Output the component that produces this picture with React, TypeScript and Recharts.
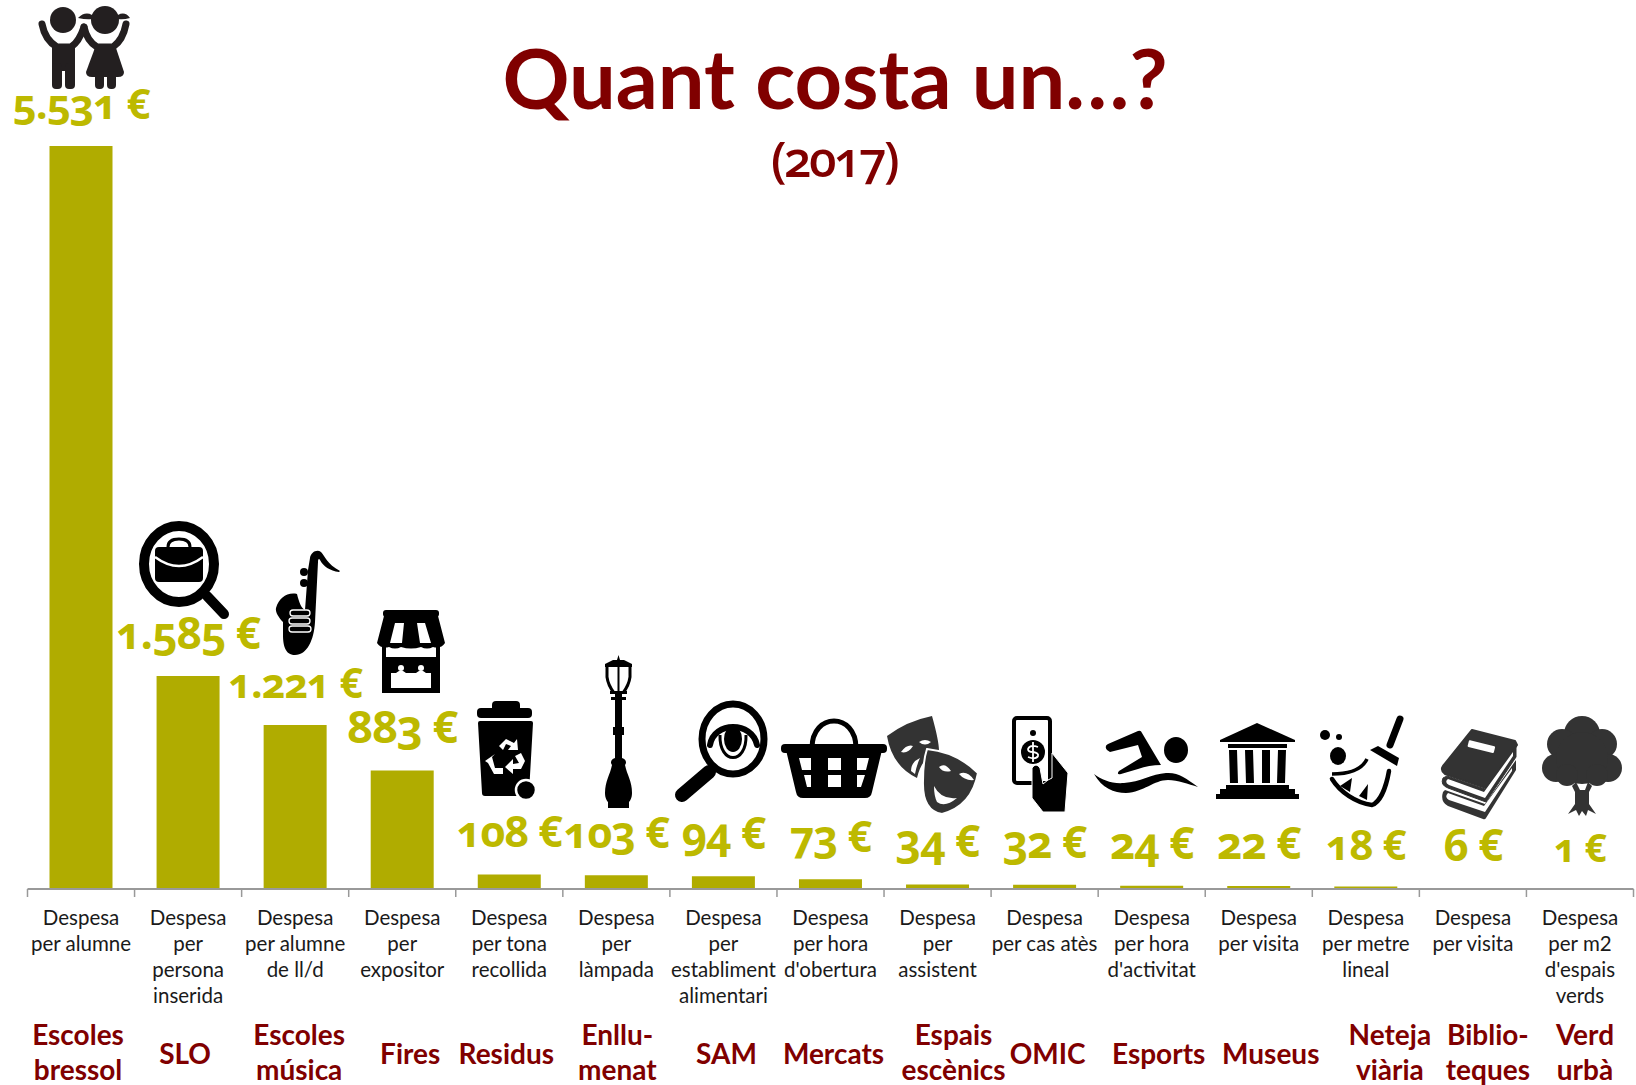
import React from 'react';
import { BarChart, Bar, XAxis, YAxis, LabelList } from 'recharts';

const sections = ['Escoles bressol', 'SLO', 'Escoles música', 'Fires', 'Residus', 'Enllu-menat', 'SAM', 'Mercats', 'Espais escènics', 'OMIC', 'Esports', 'Museus', 'Neteja viària', 'Biblio-teques', 'Verd urbà'];
const values = [5531, 1585, 1221, 883, 108, 103, 94, 73, 34, 32, 24, 22, 18, 6, 1];
const sectionLines = [['Escoles', 'bressol'], ['SLO'], ['Escoles', 'música'], ['Fires'], ['Residus'], ['Enllu-', 'menat'], ['SAM'], ['Mercats'], ['Espais', 'escènics'], ['OMIC'], ['Esports'], ['Museus'], ['Neteja', 'viària'], ['Biblio-', 'teques'], ['Verd', 'urbà']];
const descriptions = [
  ['Despesa', 'per alumne'],
  ['Despesa', 'per', 'persona', 'inserida'],
  ['Despesa', 'per alumne', 'de ll/d'],
  ['Despesa', 'per', 'expositor'],
  ['Despesa', 'per tona', 'recollida'],
  ['Despesa', 'per', 'làmpada'],
  ['Despesa', 'per', 'establiment', 'alimentari'],
  ['Despesa', 'per hora', "d'obertura"],
  ['Despesa', 'per', 'assistent'],
  ['Despesa', 'per cas atès'],
  ['Despesa', 'per hora', "d'activitat"],
  ['Despesa', 'per visita'],
  ['Despesa', 'per metre', 'lineal'],
  ['Despesa', 'per visita'],
  ['Despesa', 'per m2', "d'espais", 'verds'],
];

// the section names are not centred under the bars in the original
const sectionShift = [-3, -3, 4, 8, -3, 1, 3, 3, 16, 3, 7, 12, 24, 15, 5];
const labelSizes = [42, 44, 41, 45, 43, 43, 44, 43, 44, 44, 44, 44, 42, 44, 39];

const data = sections.map((section, i) => ({ section, value: values[i] }));

const RED = '#800000';
const OLIVE = '#b0ac00';
const LABEL = '#bdb900';
const BAND = 107.07;
const FONT = 'Lato, sans-serif';

const formatEuro = (v: number) => `${v >= 1000 ? `${Math.floor(v / 1000)}.${String(v % 1000).padStart(3, '0')}` : v} €`;

function CategoryTick({ x, y, index }: any) {
  const i = index as number;
  const lines = sectionLines[i];
  return (
    <g>
      <line x1={x - BAND / 2} x2={x - BAND / 2} y1={y} y2={y + 8} stroke="#999" strokeWidth={1.5} />
      {i === sections.length - 1 && <line x1={x + BAND / 2} x2={x + BAND / 2} y1={y} y2={y + 8} stroke="#999" strokeWidth={1.5} />}
      {descriptions[i].map((t, k) => (
        <text key={k} x={x} y={y + 35.5 + k * 26} textAnchor="middle" fontFamily={FONT} fontSize={20.5} fill="#1a1a1a">{t}</text>
      ))}
      {lines.map((t, k) => (
        <text key={k} x={x + sectionShift[i]} y={y + (lines.length === 1 ? 175 : 156 + k * 35)} textAnchor="middle" fontFamily={FONT} fontWeight={700} fontSize={28} fill={RED}>{t}</text>
      ))}
    </g>
  );
}

function ValueLabel({ x, y, width, index, value }: any) {
  return (
    <text x={x + width / 2} y={y - 27} textAnchor="middle" fontFamily="'Open Sans', sans-serif" fontWeight={700} fontSize={labelSizes[index]} fill={LABEL} style={{ fontVariantNumeric: 'oldstyle-nums', letterSpacing: -1 }}>
      {formatEuro(value)}
    </text>
  );
}

// icons, drawn in their own pixel boxes
const Box = ({ x, y, w, h, fill = '#000', children }: any) => (
  <svg x={x} y={y} width={w} height={h} viewBox={`0 0 ${w} ${h}`} overflow="visible" fill={fill}>{children}</svg>
);

const Kids = () => (
  <Box x={37} y={7} w={94} h={82} fill="#231f20">
    <circle cx={26} cy={13} r={13} />
    <path d="M5 17Q8 33 20 40L34 40Q42 35 47 20" fill="none" stroke="#231f20" strokeWidth={7} strokeLinecap="round" />
    <rect x={15} y={38} width={23} height={26} />
    <rect x={15} y={56} width={10} height={26} rx={4} />
    <rect x={28} y={56} width={10} height={26} rx={4} />
    <circle cx={68} cy={13} r={14} />
    <path d="M55 8Q48 4 41 11Q50 13 55 12ZM81 8Q88 4 93 11Q86 13 81 12Z" />
    <path d="M47 20Q50 34 60 40L76 40Q86 33 89 17" fill="none" stroke="#231f20" strokeWidth={7} strokeLinecap="round" />
    <path d="M59 38H78L87 65Q87 70 81 70H55Q49 70 49 65Z" />
    <rect x={58} y={64} width={9} height={18} rx={4} />
    <rect x={70} y={64} width={9} height={18} rx={4} />
  </Box>
);

const JobSearch = () => (
  <Box x={139} y={521} w={92} h={100}>
    <ellipse cx={40} cy={43} rx={35} ry={38} fill="none" stroke="#000" strokeWidth={10} />
    <path d="M68 75L85 93" stroke="#000" strokeWidth={10} strokeLinecap="round" />
    <path d="M29 26Q29 18 40 18Q51 18 51 26" fill="none" stroke="#000" strokeWidth={3} />
    <path d="M20 26H60Q64 26 64 30V57Q64 61 60 61H20Q16 61 16 57V30Q16 26 20 26Z" />
    <path d="M16 36Q40 54 64 36" fill="none" stroke="#fff" strokeWidth={2.5} />
  </Box>
);

const Sax = () => (
  <Box x={275} y={550} w={65} h={105}>
    <path d="M35 8C36 2 42-1 46 2C50 6 52 14 65 21L64 22C55 21 48 16 45 10C44 8 43 9 43 12L40 72C39 90 32 105 20 105C10 105 8 95 8 85L8 72C4 68 0 62 1 58C4 48 12 42 22 44C24 52 26 58 30 60L33 20Z" />
    <circle cx={29} cy={22} r={4} />
    <circle cx={29} cy={33} r={4} />
    <g fill="none" stroke="#fff" strokeWidth={1.3}>
      <rect x={15} y={60} width={20} height={6} rx={3} />
      <rect x={14} y={68} width={21} height={6} rx={3} />
      <rect x={14} y={76} width={22} height={6} rx={3} />
    </g>
  </Box>
);

const Shop = () => (
  <Box x={377} y={610} w={68} h={83}>
    <rect x={6} y={0} width={56} height={7} rx={3} />
    <path d="M7 6H61L68 33Q64 39 56 37Q50 40 44 37Q34 40 24 37Q18 40 12 37Q4 39 0 33Z" />
    <path d="M18 13H27L25 33H13ZM40 13H48L54 33H43Z" fill="#fff" />
    <path d="M5 36V83H63V36H59V47H9V36Z" />
    <rect x={13} y={53} width={42} height={26} fill="#000" />
    <path d="M14 63H54V78H14Z" fill="#fff" />
    <circle cx={24} cy={58} r={3} fill="#fff" />
    <circle cx={44} cy={58} r={3} fill="#fff" />
    <path d="M19 63Q24 58 29 63ZM39 63Q44 58 49 63Z" fill="#fff" />
  </Box>
);

const Recycle = () => (
  <g fill="#fff">
    <path d="M22 45L29 38L37 42L40 38L41 49L31 49L34 45L29 43L26 49Z" />
    <path d="M15 56L18 67L26 67L26 73L17 73L11 62L8 60L18 53Z" />
    <path d="M44 52L48 60L44 68L36 68L36 73L28 66L36 58L36 63L42 62L38 55Z" />
  </g>
);

const Bin = () => (
  <Box x={477} y={701} w={58} h={99}>
    <rect x={15} y={0} width={28} height={12} rx={4} />
    <rect x={0} y={7} width={55} height={10} rx={4} />
    <path d="M3 20H54Q56 20 56 22L52 92Q52 95 49 95H8Q5 95 5 92L1 22Q1 20 3 20Z" />
    <Recycle />
    <circle cx={49} cy={89} r={10} stroke="#fff" strokeWidth={2.5} />
  </Box>
);

const Lamp = () => (
  <Box x={603} y={655} w={31} h={153}>
    <path d="M15.5 0L17 5H21L29 9V12H2V9L10 5H14Z" />
    <path d="M4 12V22Q5 30 11 38M27 12V22Q26 30 20 38" fill="none" stroke="#000" strokeWidth={3} />
    <path d="M15.5 12V38" stroke="#000" strokeWidth={2} />
    <path d="M7 36H24V39H19V42H23V45H19V72H21V80H19V103C23 104 24 108 22 110C24 120 29 126 29 138C29 143 27 146 26 147V153H5V147C4 146 2 143 2 138C2 126 7 120 9 110C7 108 8 104 12 103V80H10V72H12V45H8V42H12V39H7Z" />
  </Box>
);

const EyeSearch = () => (
  <Box x={674} y={701} w={93} h={101}>
    <ellipse cx={59} cy={38} rx={31} ry={35} fill="none" stroke="#000" strokeWidth={7} />
    <path d="M35 71L8 94" stroke="#000" strokeWidth={14} strokeLinecap="round" />
    <path d="M36 44C40 20 78 20 83 44" fill="none" stroke="#000" strokeWidth={6} strokeLinecap="round" />
    <path d="M46 34C45 64 73 64 72 34" fill="none" stroke="#000" strokeWidth={3} />
    <ellipse cx={59} cy={38} rx={9} ry={13} />
  </Box>
);

const Basket = () => (
  <Box x={781} y={720} w={106} h={78}>
    <path d="M31 28C31-8 75-8 75 28" fill="none" stroke="#000" strokeWidth={5} />
    <rect x={0} y={24} width={106} height={9} rx={4} />
    <path d="M5 30H101L91 72Q90 78 84 78H22Q16 78 15 72Z" />
    <g fill="#fff">
      <path d="M18 38H30V50H21ZM47 38H60V50H47ZM76 38H88L85 50H76ZM23 55H30V67H26ZM47 55H60V67H47ZM76 55H84L80 67H76Z" />
    </g>
  </Box>
);

const Masks = () => (
  <Box x={887} y={716} w={91} h={98} fill="#333">
    <path d="M0 20Q20 5 45 0Q52 25 52 35Q35 40 30 62Q5 50 0 20Z" />
    <path d="M14 36Q20 28 26 30Q21 38 14 36ZM32 26Q38 22 44 26Q38 31 32 26ZM24 55Q24 46 33 42Q30 48 28 58Z" fill="#fff" />
    <path d="M40 33Q70 36 91 57Q85 90 55 98Q35 95 36 65Q36 45 40 33Z" stroke="#fff" strokeWidth={2} />
    <path d="M52 51Q58 46 64 55Q56 57 52 51ZM72 58Q80 54 87 64Q78 65 72 58ZM47 70Q54 84 70 82Q58 92 50 86Q47 80 47 70Z" fill="#fff" />
  </Box>
);

const HandMoney = () => (
  <Box x={1012} y={716} w={57} h={96}>
    <rect x={2} y={2} width={36} height={65} rx={3} fill="#fff" stroke="#000" strokeWidth={4} />
    <circle cx={21} cy={17} r={3} />
    <circle cx={21} cy={36} r={12} />
    <path d="M26 31Q18 28 16 33Q16 36 21 36Q27 37 26 40Q24 44 16 41M21 26V46" fill="none" stroke="#fff" strokeWidth={1.8} />
    <path d="M40 37L56 57L53 96H31L20 82V52Q24 46 28 52L31 68L36 64L40 62Z" stroke="#fff" strokeWidth={1} />
  </Box>
);

const Swimmer = () => (
  <Box x={1094} y={730} w={106} h={65}>
    <ellipse cx={82} cy={20} rx={12} ry={13} />
    <path d="M13 20Q10 16 14 14L44 1Q47 0 48 3L67 35Q55 35 44 39L27 44Q22 45 25 41L48 27L44 15L16 22Z" />
    <path d="M0 44C8 58 20 63 32 63C50 62 60 50 74 50C84 50 94 54 104 57C92 48 84 42 72 43C58 44 46 52 30 53C18 54 8 50 0 44Z" />
  </Box>
);

const Museum = () => (
  <Box x={1216} y={723} w={83} h={77}>
    <path d="M41 0L79 17V19H4V17Z" />
    <rect x={12} y={21} width={59} height={4} />
    <path d="M13 27H21L22 60H14ZM29 27H37L38 60H30ZM46 27H54L54 60H46ZM62 27H70L69 60H61Z" />
    <path d="M10 62H73V66H79V71H83V76H0V71H4V66H10Z" />
  </Box>
);

const Broom = () => (
  <Box x={1320} y={716} w={84} h={92}>
    <circle cx={5} cy={19} r={5} />
    <circle cx={19} cy={21} r={3} />
    <ellipse cx={18} cy={40} rx={8} ry={9} />
    <path d="M80 3L70 29" stroke="#000" strokeWidth={7} strokeLinecap="round" />
    <path d="M50 34L58 30L79 42L77 50Z" />
    <path d="M47 43Q40 58 12 58" fill="none" stroke="#000" strokeWidth={3.5} />
    <path d="M12 63C20 76 36 87 52 89C60 86 66 72 69 55" fill="none" stroke="#000" strokeWidth={4.5} strokeLinecap="round" />
    <path d="M20 70L32 62L30 76ZM39 80L48 68L47 84Z" />
  </Box>
);

const Books = () => (
  <Box x={1440} y={730} w={77} h={90} fill="#333">
    <path d="M32 0L75 11L77 15L46 58L5 44Q0 40 3 36Z" stroke="#333" strokeWidth={2} strokeLinejoin="round" />
    <rect x={28} y={13} width={27} height={7} rx={1} fill="#fff" transform="rotate(14 41 16)" />
    <path d="M7 46L45 59L76 16V27L46 72L8 58Q0 55 3 48Z" stroke="#333" strokeWidth={1} />
    <path d="M8 49L44 62L73 22V26L45 68L9 55Q4 52 8 49Z" fill="#fff" />
    <path d="M5 60L45 74L76 30V40L46 88Q45 90 43 89L8 76Q0 72 3 62Z" />
    <path d="M8 63L44 76L72 38V41L45 82L9 70Q4 67 8 63Z" fill="#fff" />
  </Box>
);

const Tree = () => (
  <Box x={1542} y={716} w={80} h={100} fill="#333">
    <circle cx={40} cy={18} r={18} />
    <circle cx={20} cy={28} r={15} />
    <circle cx={60} cy={28} r={15} />
    <circle cx={14} cy={52} r={14} />
    <circle cx={66} cy={52} r={14} />
    <circle cx={40} cy={42} r={26} />
    <circle cx={25} cy={59} r={11} />
    <circle cx={55} cy={59} r={11} />
    <path d="M34 66L38 74L43 74L46 66L50 70L47 76L47 88L54 98L46 94L44 100L40 95L37 100L34 94L26 98L33 88L33 76L30 70Z" />
  </Box>
);

export default function App() {
  return (
    <div style={{ position: 'absolute', left: 0, top: 0, width: 1636, height: 1085, background: '#fff' }}>
      <BarChart width={1636} height={1085} data={data} margin={{ top: 83, right: 2.5, bottom: 0, left: 27.5 }}>
        <YAxis hide domain={[0, 6000]} />
        <XAxis
          dataKey="section"
          height={196}
          interval={0}
          tickLine={false}
          tickSize={0}
          tickMargin={0}
          axisLine={{ stroke: '#999', strokeWidth: 2 }}
          tick={<CategoryTick />}
        />
        <Bar dataKey="value" fill={OLIVE} barSize={63} isAnimationActive={false}>
          <LabelList dataKey="value" content={<ValueLabel />} />
        </Bar>
      </BarChart>
      <svg width={1636} height={1085} style={{ position: 'absolute', left: 0, top: 0, pointerEvents: 'none' }}>
        <text x={835} y={109} textAnchor="middle" fontFamily={FONT} fontWeight={700} fontSize={83} fill={RED}>Quant costa un…?</text>
        <text x={834} y={177} textAnchor="middle" fontFamily="'Open Sans', sans-serif" fontWeight={600} fontSize={49} fill={RED} style={{ fontVariantNumeric: 'oldstyle-nums', letterSpacing: -2.5 }}>(2017)</text>
        <Kids />
        <JobSearch />
        <Sax />
        <Shop />
        <Bin />
        <Lamp />
        <EyeSearch />
        <Basket />
        <Masks />
        <HandMoney />
        <Swimmer />
        <Museum />
        <Broom />
        <Books />
        <Tree />
      </svg>
    </div>
  );
}
